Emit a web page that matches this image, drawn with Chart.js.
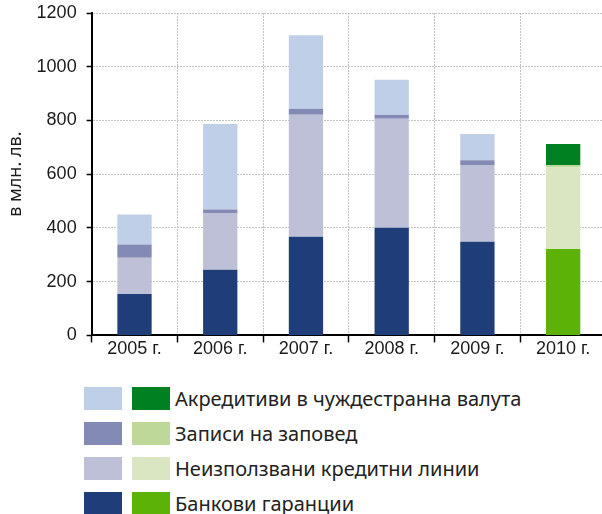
<!DOCTYPE html>
<html lang="bg">
<head>
<meta charset="utf-8">
<script src="https://cdn.jsdelivr.net/npm/chart.js@4"></script>
<style>
  html, body { margin: 0; padding: 0; background: #fff; overflow: hidden; }
  #page { position: relative; width: 602px; height: 514px; overflow: hidden; }
  #chartBox { position: absolute; left: 0; top: 0; width: 606px; height: 356px; }
  #legend { position: absolute; left: 84px; top: 387px; font-family: "Noto Sans", sans-serif; font-size: 20px; color: #222; }
  .legend-row { display: flex; align-items: center; height: 23px; margin-bottom: 12px; }
  .swatch { width: 38px; height: 23px; margin-right: 10px; }
  .swatch + .swatch { margin-right: 5px; }
</style>
</head>
<body>
<div id="page">
  <div id="chartBox"><canvas id="guaranteeChart"></canvas></div>
  <div id="legend"></div>
</div>
<script>
const YEARS = ['2005 г.', '2006 г.', '2007 г.', '2008 г.', '2009 г.', '2010 г.'];

// bottom to top of each stack, в млн. лв.
const GUARANTEES = [154, 244, 367, 401, 349, 322];
const UNUSED_CREDIT_LINES = [135, 210, 454, 405, 285, 304];
const PROMISSORY_NOTES = [49, 15, 23, 15, 18, 8];
const LETTERS_OF_CREDIT = [112, 318, 273, 131, 98, 78];

const Y_TICKS = [0, 200, 400, 600, 800, 1000, 1200];

const SERIES_NAMES = [
  'Банкови гаранции',
  'Неизползвани кредитни линии',
  'Записи на заповед',
  'Акредитиви в чуждестранна валута'
];
// first five years in blue tones, 2010 in green tones
const BLUE_COLORS = ['#1f3d78', '#bec0d7', '#838ab5', '#bfcfe8'];
const GREEN_COLORS = ['#5cb206', '#dae6c2', '#bed89a', '#008020'];

const seriesValues = [GUARANTEES, UNUSED_CREDIT_LINES, PROMISSORY_NOTES, LETTERS_OF_CREDIT];

function barColors(index) {
  return YEARS.map((year, i) => (i === YEARS.length - 1 ? GREEN_COLORS[index] : BLUE_COLORS[index]));
}

const datasets = seriesValues.map((values, index) => ({
  label: SERIES_NAMES[index],
  data: values,
  backgroundColor: barColors(index),
  borderWidth: 0,
  barPercentage: 0.4,
  categoryPercentage: 1
}));

const FONT = '"Liberation Sans", Arial, sans-serif';

new Chart(document.getElementById('guaranteeChart'), {
  type: 'bar',
  data: { labels: YEARS, datasets },
  options: {
    responsive: true,
    maintainAspectRatio: false,
    animation: false,
    layout: { padding: { top: 13, left: 0, right: 0, bottom: 0 } },
    plugins: { legend: { display: false }, tooltip: { enabled: false } },
    scales: {
      x: {
        stacked: true,
        grid: {
          offset: true,
          color: '#c4c4c4',
          lineWidth: 1,
          tickColor: '#000',
          tickLength: 7,
          tickWidth: 1.5
        },
        border: { color: '#000', width: 2, dash: [2, 1] },
        ticks: { color: '#1a1a1a', font: { family: FONT, size: 18, lineHeight: 1.2 }, padding: -4 }
      },
      y: {
        stacked: true,
        min: 0,
        max: 1200,
        afterBuildTicks: (scale) => {
          scale.ticks = Y_TICKS.map((value) => ({ value }));
        },
        // the tick padding would otherwise push the plot down
        afterFit: (scale) => {
          scale.paddingTop = 0;
          scale.paddingBottom = 0;
        },
        grid: {
          color: '#c4c4c4',
          lineWidth: 1,
          tickColor: '#000',
          tickLength: 5,
          tickWidth: 1.5
        },
        border: { color: '#000', width: 2, dash: [2, 1] },
        ticks: {
          color: '#1a1a1a',
          font: { family: FONT, size: 18, lineHeight: 1 },
          padding: 10,
          callback: (value) => String(value)
        },
        title: {
          display: true,
          text: 'в млн. лв.',
          color: '#1a1a1a',
          font: { family: '"Noto Sans", sans-serif', size: 18 },
          padding: { top: 5, bottom: 0 }
        }
      }
    }
  }
});

// two swatches per row: blue years and 2010, top series first
const legend = document.getElementById('legend');
for (let index = SERIES_NAMES.length - 1; index >= 0; index--) {
  const row = document.createElement('div');
  row.className = 'legend-row';
  row.innerHTML = `
    <span class="swatch" style="background:${BLUE_COLORS[index]}"></span>
    <span class="swatch" style="background:${GREEN_COLORS[index]}"></span>
    <span>${SERIES_NAMES[index]}</span>
  `;
  legend.appendChild(row);
}
</script>
</body>
</html>
